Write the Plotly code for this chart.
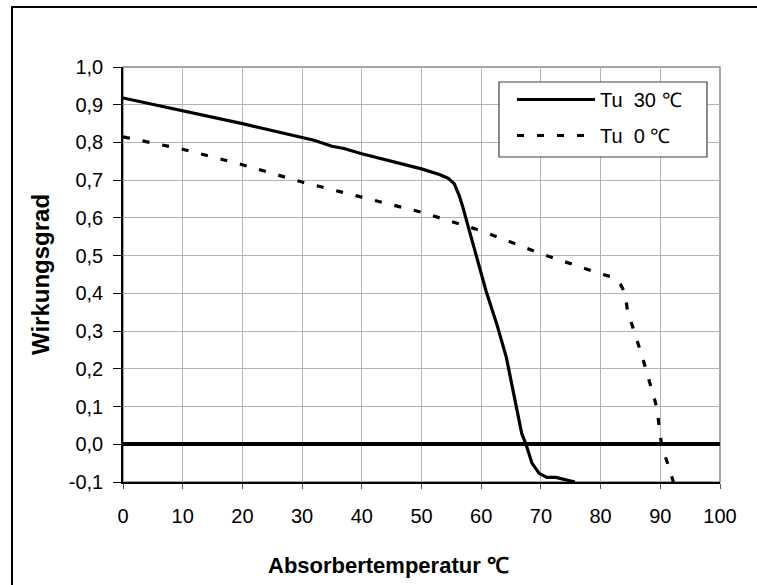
import plotly.graph_objects as go

# ---- data ----
x_tu30 = [0, 10, 20, 30, 32, 35, 37, 40, 50, 53, 54.5, 55.5, 56.3, 56.9, 60.8, 62.6, 64.2, 66.8, 67.5, 68.5, 69.7, 71, 72.5, 75.7]
y_tu30 = [0.918, 0.885, 0.85, 0.813, 0.806, 0.79, 0.784, 0.77, 0.73, 0.715, 0.705, 0.69, 0.66, 0.63, 0.407, 0.319, 0.231, 0.028, 0.0, -0.05, -0.077, -0.088, -0.088, -0.1]

x_tu0 = [0, 10, 20, 30, 40, 50, 60, 70, 80, 82, 83.3, 84.1, 84.5, 87, 89.4, 90.2, 92.2]
y_tu0 = [0.815, 0.782, 0.741, 0.695, 0.655, 0.615, 0.566, 0.505, 0.452, 0.443, 0.425, 0.40, 0.354, 0.231, 0.099, 0.0, -0.1]

x_ticks = [0, 10, 20, 30, 40, 50, 60, 70, 80, 90, 100]
y_ticks = [-0.1, 0, 0.1, 0.2, 0.3, 0.4, 0.5, 0.6, 0.7, 0.8, 0.9, 1.0]
y_ticklabels = ["-0,1", "0,0", "0,1", "0,2", "0,3", "0,4", "0,5", "0,6", "0,7", "0,8", "0,9", "1,0"]

name_tu30 = "Tu  30 ℃"
name_tu0 = "Tu  0 ℃"
x_title = "Absorbertemperatur ℃"
y_title = "Wirkungsgrad"

FONT = "Liberation Sans, Arial, sans-serif"
W, H = 757, 585
L, R, T, B = 123, 37, 67, 103
PW, PH = W - L - R, H - T - B

def px_x(p):
    return (p - L) / PW

def px_y(p):
    return (H - B - p) / PH

fig = go.Figure()
fig.add_trace(go.Scatter(x=x_tu30, y=y_tu30, mode="lines", name=name_tu30,
                         legendgroup="a",
                         line=dict(color="black", width=3.2)))
fig.add_trace(go.Scatter(x=x_tu0, y=y_tu0, mode="lines", name=name_tu0,
                         legendgroup="b",
                         line=dict(color="black", width=3.2, dash="7px,13px")))

fig.update_layout(
    width=W, height=H,
    margin=dict(l=L, r=R, t=T, b=B, pad=0),
    paper_bgcolor="white", plot_bgcolor="white",
    font=dict(family=FONT, size=20, color="black"),
    showlegend=True,
    legend=dict(x=px_x(512), y=px_y(80), xanchor="left", yanchor="top",
                bgcolor="rgba(0,0,0,0)", borderwidth=0,
                font=dict(size=20), itemwidth=78, tracegroupgap=7,
                traceorder="grouped"),
    xaxis=dict(range=[0, 100], tickmode="array", tickvals=x_ticks,
               showgrid=True, gridcolor="#b4b4b4", gridwidth=1,
               zeroline=False, showline=True, linecolor="black", linewidth=1.5,
               ticks="outside", ticklen=5, tickcolor="#555555", tickwidth=1,
               ticklabelstandoff=10),
    yaxis=dict(range=[-0.1, 1.0], tickmode="array",
               tickvals=y_ticks, ticktext=y_ticklabels,
               showgrid=True, gridcolor="#b4b4b4", gridwidth=1,
               zeroline=True, zerolinecolor="black", zerolinewidth=3.5,
               showline=True, linecolor="black", linewidth=1.5,
               ticks="outside", ticklen=8, tickcolor="black", tickwidth=1,
               ticklabelstandoff=6),
    shapes=[
        dict(type="rect", xref="x domain", yref="y domain", x0=0, x1=1, y0=0, y1=1,
             line=dict(color="#888888", width=1.5), layer="below"),
        dict(type="rect", xref="paper", yref="paper",
             x0=px_x(12), x1=px_x(780), y0=px_y(610), y1=px_y(7),
             line=dict(color="black", width=2), layer="below"),
        dict(type="rect", xref="paper", yref="paper",
             x0=px_x(499), x1=px_x(707), y0=px_y(157), y1=px_y(82),
             fillcolor="white", line=dict(color="#404040", width=1.2), layer="above"),
    ],
    annotations=[
        dict(text=f"<b>{x_title}</b>", xref="paper", yref="paper",
             x=px_x(388), y=px_y(565), xanchor="center", yanchor="middle",
             showarrow=False, font=dict(size=22)),
        dict(text=f"<b>{y_title}</b>", xref="paper", yref="paper",
             x=px_x(40), y=px_y(275), xanchor="center", yanchor="middle",
             textangle=-90, showarrow=False, font=dict(size=24)),
    ],
)

fig.write_html("out.html")
